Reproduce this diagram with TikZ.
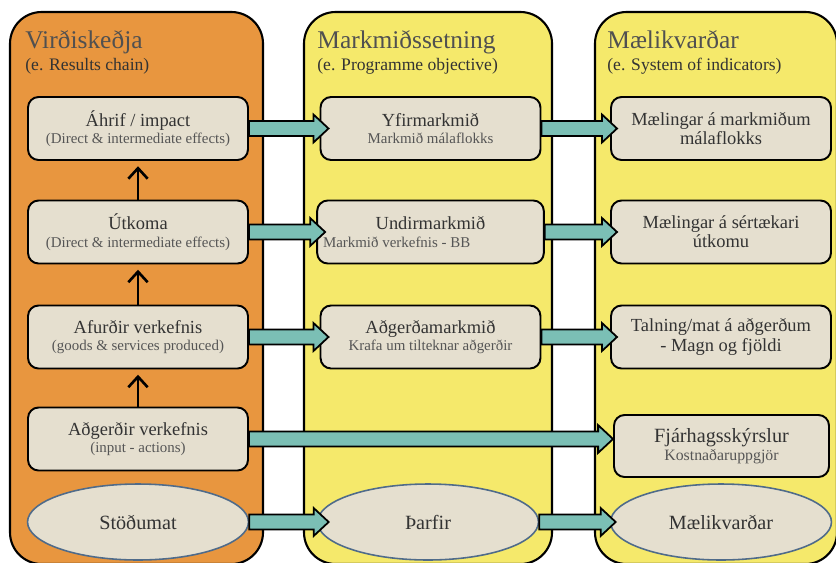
\documentclass[tikz,border=0pt]{standalone}
\usepackage{fontspec}
\setmainfont{Liberation Serif}
\usepackage{tikz}
\usetikzlibrary{positioning}
\usetikzlibrary{calc}
\usetikzlibrary{arrows.meta,shapes.geometric}

\definecolor{chainorange}{HTML}{E8963F}
\definecolor{goalyellow}{HTML}{F5E96B}
\definecolor{boxfill}{HTML}{E5DFCF}
\definecolor{flowteal}{HTML}{7BBFB5}
\definecolor{titlegray}{HTML}{505050}
\definecolor{maintext}{HTML}{333333}
\definecolor{subtext}{HTML}{555555}
\definecolor{ellipseline}{HTML}{4F6B8A}

\newcommand{\subline}[1]{\\[-1pt]{\fontsize{8.5}{9}\selectfont\color{subtext}#1}}
\newcommand{\tealarrow}[3]{%
  \draw[flowarrow] let \p1=(#1.east), \p2=(#2.west) in
    (\x1,\y1+4.25pt) -- (\x2+#3*0.567pt-8.5pt,\y1+4.25pt) -- (\x2+#3*0.567pt-8.5pt,\y1+7.9pt)
    -- (\x2+#3*0.567pt,\y1) -- (\x2+#3*0.567pt-8.5pt,\y1-7.9pt) -- (\x2+#3*0.567pt-8.5pt,\y1-4.25pt)
    -- (\x1,\y1-4.25pt) -- cycle;}

\tikzset{
  panel/.style={draw=black, line width=1.2pt, rounded corners=18pt},
  paneltitle/.style={anchor=base west, inner sep=0pt, text=titlegray, font=\fontsize{14.5}{16}\selectfont},
  panelsub/.style={anchor=base west, inner sep=0pt, text=maintext, font=\fontsize{10}{11}\selectfont},
  stagebox/.style={draw=black, line width=1.1pt, fill=boxfill, rounded corners=6pt,
    minimum width=4.4cm, minimum height=1.26cm, align=center, text=maintext,
    font=\fontsize{10.5}{11}\selectfont},
  baseellipse/.style={ellipse, draw=ellipseline, line width=0.9pt, fill=boxfill,
    minimum width=4.42cm, minimum height=1.52cm, text=maintext, font=\fontsize{11.5}{12}\selectfont},
  flowarrow/.style={draw=black, line width=1pt, fill=flowteal, line join=miter},
  uparrow/.style={-{Straight Barb[length=6pt,width=11pt]}, line width=1.5pt, shorten >=3pt}
}

\begin{document}
\begin{tikzpicture}[x=0.02cm, y=-0.02cm]
  \useasboundingbox (0,0) rectangle (836,562);
  \clip (0,0) rectangle (836,562);

  % panels
  \draw[panel, fill=chainorange] (10,12) rectangle (263,564);
  \draw[panel, fill=goalyellow] (304,12) rectangle (552,564);
  \draw[panel, fill=goalyellow] (595,12) rectangle (837,564);

  \node[paneltitle] (t1) at (25,48) {Virðiskeðja};
  \node[panelsub] (s1) at (25,70) {(e. Results chain)};
  \node[paneltitle] (t2) at (317,48) {Markmiðssetning};
  \node[panelsub] (s2) at (317,70) {(e. Programme objective)};
  \node[paneltitle] (t3) at (607,48) {Mælikvarðar};
  \node[panelsub] (s3) at (607,70) {(e. System of indicators)};

  % results chain
  \node[stagebox] (impact) at (138,128.5) {Áhrif / impact\subline{(Direct \& intermediate effects)}};
  \node[stagebox] (outcome) at (138,232) {Útkoma\subline{(Direct \& intermediate effects)}};
  \node[stagebox] (output) at (138,337) {Afurðir verkefnis\subline{(goods \& services produced)}};
  \node[stagebox] (input) at (138,439) {Aðgerðir verkefnis\subline{(input - actions)}};
  \node[baseellipse] (status) at (138,522) {Stöðumat};

  % objectives
  \node[stagebox] (topgoal) at (430.5,128.5) {Yfirmarkmið\subline{Markmið málaflokks}};
  \node[stagebox] (subgoal) at (430.5,232) {Undirmarkmið\subline{\makebox[4.3cm][l]{Markmið verkefnis - BB}}};
  \node[stagebox] (actgoal) at (430.5,337) {Aðgerðamarkmið\subline{Krafa um tilteknar aðgerðir}};
  \node[baseellipse] (needs) at (428,522) {Þarfir};

  % indicators
  \node[stagebox] (measure1) at (721,128.5) {Mælingar á markmiðum\\málaflokks};
  \node[stagebox] (measure2) at (721,232) {Mælingar á sértækari\\útkomu};
  \node[stagebox] (measure3) at (721,337) {Talning/mat á aðgerðum\\- Magn og fjöldi};
  \node[stagebox, minimum width=4.3cm, minimum height=1.24cm] (finance) at (721.5,446)
    {{\fontsize{11.5}{12}\selectfont Fjárhagsskýrslur}\\[-1pt]{\fontsize{9}{9}\selectfont\color{subtext}Kostnaðaruppgjör}};
  \node[baseellipse] (indic) at (721,522) {Mælikvarðar};

  \foreach \i/\j in {outcome/impact, output/outcome, input/output}
    \draw[uparrow] (\i.north) -- (\j.south);

  \foreach \i/\j/\k in {impact/topgoal/9, outcome/subgoal/9, output/actgoal/9,
      topgoal/measure1/7, subgoal/measure2/7, actgoal/measure3/7,
      input/finance/0, status/needs/12, needs/indic/6}
    {\tealarrow{\i}{\j}{\k}}
\end{tikzpicture}
\end{document}
